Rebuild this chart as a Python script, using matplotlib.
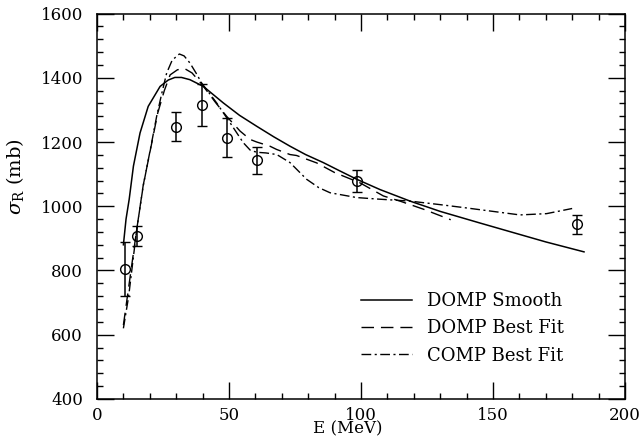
"""Reaction cross section sigma_R vs E: data with DOMP / COMP optical-model curves."""
import matplotlib
matplotlib.use("Agg")
import matplotlib.pyplot as plt
from matplotlib.ticker import MultipleLocator

# measured points
e_data = [10.6, 15.2, 30.0, 39.8, 49.2, 60.6, 98.5, 181.7]
sig_data = [805, 907, 1248, 1316, 1214, 1143, 1078, 944]
sig_err = [83, 32, 45, 66, 62, 43, 34, 29]

# DOMP smooth (solid)
e_smooth = [10, 11, 12.2, 13.8, 16.3, 19.4, 23.9, 27, 29.5, 32, 35.2, 40.3, 47.8, 54,
            60.5, 67, 73.1, 79, 85.7, 92, 98.4, 107.2, 118.6, 130, 145, 157.7, 170, 184.5]
sig_smooth = [880, 960, 1022, 1125, 1228, 1311, 1373, 1393, 1401, 1401, 1394, 1373, 1322, 1283,
              1249, 1216, 1187, 1161, 1136, 1110, 1084, 1052, 1016, 984, 948, 918, 889, 858]

# DOMP best fit (dashed)
e_dbest = [10, 15, 17.5, 20.7, 23, 25.5, 27.7, 30.5, 33.3, 36, 39.7, 45, 49.1, 54.2, 58,
           60.5, 65.5, 68, 73.1, 75.6, 83.2, 90, 99.6, 108.5, 114.8, 123.6, 134]
sig_dbest = [630, 925, 1065, 1195, 1290, 1360, 1409, 1425, 1428, 1415, 1380, 1322, 1280, 1234, 1208,
             1200, 1187, 1177, 1161, 1158, 1135, 1105, 1073, 1032, 1016, 991, 958]

# COMP best fit (dash-dot)
e_cbest = [10, 12, 15, 17.5, 20.7, 22.6, 24.5, 26.4, 28.5, 31.2, 33, 35.2, 37.5, 39.7, 45.3,
           50.4, 55.4, 58, 60.5, 64, 68.1, 73.1, 79.4, 84, 88.3, 98.4, 107, 118.6, 130, 138.8,
           150, 160.2, 170.3, 180]
sig_cbest = [620, 720, 925, 1063, 1198, 1280, 1350, 1415, 1455, 1474, 1468, 1446, 1415, 1383, 1322,
             1260, 1198, 1175, 1168, 1166, 1161, 1136, 1084, 1058, 1042, 1027, 1022, 1016, 1005, 996,
             984, 973, 977, 993]

plt.rcParams["font.family"] = ["DejaVu Serif"]
plt.rcParams["mathtext.fontset"] = "dejavuserif"

fig = plt.figure(figsize=(6.39, 4.46), dpi=100)
ax = fig.add_axes([0.1518, 0.1054, 0.8262, 0.8643])

ax.plot(e_smooth, sig_smooth, color="black", lw=1.1, label="DOMP Smooth")
ax.plot(e_dbest, sig_dbest, color="black", lw=1.0, dashes=(9, 5), label="DOMP Best Fit")
ax.plot(e_cbest, sig_cbest, color="black", lw=1.0, dashes=(7, 2.5, 1.5, 2.5), label="COMP Best Fit")
ax.errorbar(e_data, sig_data, yerr=sig_err, fmt="o", ms=7, mfc="none", mec="black",
            mew=1.0, ecolor="black", elinewidth=1.1, capsize=3.5, capthick=1.1)

ax.set_xlim(0, 200)
ax.set_ylim(400, 1600)
ax.xaxis.set_major_locator(MultipleLocator(50))
ax.xaxis.set_minor_locator(MultipleLocator(10))
ax.yaxis.set_major_locator(MultipleLocator(200))
ax.yaxis.set_minor_locator(MultipleLocator(40))
ax.tick_params(which="both", direction="in", top=True, right=True, labelsize=12, width=1.0)
ax.tick_params(which="major", length=12)
ax.tick_params(which="minor", length=4.5)
ax.tick_params(axis="x", pad=6)
ax.tick_params(axis="y", pad=10)
for s in ax.spines.values():
    s.set_linewidth(1.1)

ax.set_xlabel("E (MeV)", fontsize=12)
ax.xaxis.set_label_coords(0.475, -0.056)
ax.set_ylabel(r"$\sigma_{\rm R}$ (mb)", fontsize=14)
ax.yaxis.set_label_coords(-0.135, 0.578)

ax.legend(loc="upper left", bbox_to_anchor=(0.501, 0.278), frameon=False, fontsize=13,
          handlelength=2.78, handletextpad=0.83, labelspacing=0.52, borderpad=0, borderaxespad=0)

fig.savefig("out.png", dpi=100)
